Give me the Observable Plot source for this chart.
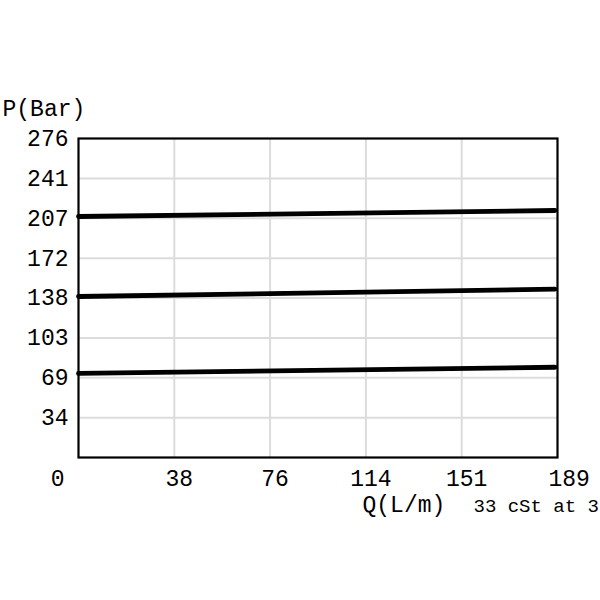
<!DOCTYPE html>
<html>
<head>
<meta charset="utf-8">
<script src="https://cdn.jsdelivr.net/npm/d3@7"></script>
<script src="https://cdn.jsdelivr.net/npm/@observablehq/plot@0.6"></script>
<style>
  html, body { margin: 0; padding: 0; background: #fff; overflow: hidden; }
  svg { display: block; }
</style>
</head>
<body>
<div id="chart"></div>
<script>
// Data
const flow = [0, 188];                 // Q (L/m) at the ends of each curve
const curveHigh = [208.5, 213.7];      // P (Bar)
const curveMid  = [139.3, 145.6];
const curveLow  = [72.7, 78.1];
const xTicks = [0, 37.8, 75.6, 113.4, 151.2, 189];
const xTickLabels = ["0", "38", "76", "114", "151", "189"];
const yTicks = [0, 34.5, 69, 103.5, 138, 172.5, 207, 241.5, 276];
const yTickLabels = ["", "34", "69", "103", "138", "172", "207", "241", "276"];
const yLabel = "P(Bar)";
const xLabel = "Q(L/m)";
const note = "33 cSt at 3";

const curves = [curveHigh, curveMid, curveLow].flatMap((vals, i) =>
  vals.map((p, j) => ({curve: i, q: flow[j], p})));

const xt = xTicks.map((v, i) => ({v, label: xTickLabels[i]}));
const yt = yTicks.map((v, i) => ({v, label: yTickLabels[i]}));
const xtFirst = xt.slice(0, 1), xtMid = xt.slice(1, -1), xtLast = xt.slice(-1);

const font = "'Liberation Mono', 'Courier New', monospace";
const fs = 23;
const common = {fontSize: fs, fill: "#000", lineAnchor: "middle"};

const chart = Plot.plot({
  width: 600,
  height: 600,
  marginLeft: 78,
  marginRight: 43,
  marginTop: 138,
  marginBottom: 143,
  style: {fontFamily: font, background: "#fff", overflow: "visible"},
  x: {domain: [0, 189], axis: null},
  y: {domain: [0, 276], axis: null},
  marks: [
    Plot.ruleX(xTicks.slice(1, -1), {stroke: "#dcdcdc", strokeWidth: 2}),
    Plot.ruleY(yTicks.slice(1, -1), {stroke: "#dcdcdc", strokeWidth: 2}),
    Plot.line(curves, {x: "q", y: "p", z: "curve", stroke: "#000", strokeWidth: 4.8}),
    Plot.frame({stroke: "#000", strokeWidth: 2.2}),
    Plot.text(yt, {y: "v", text: "label", frameAnchor: "left", dx: -10, textAnchor: "end", ...common}),
    Plot.text(xtFirst, {x: "v", text: "label", frameAnchor: "bottom", dy: 21, dx: -14, textAnchor: "end", ...common}),
    Plot.text(xtMid, {x: "v", text: "label", frameAnchor: "bottom", dy: 21, dx: 5, textAnchor: "middle", ...common}),
    Plot.text(xtLast, {x: "v", text: "label", frameAnchor: "bottom", dy: 21, dx: -9, textAnchor: "start", ...common}),
    Plot.text([yLabel], {frameAnchor: "top-left", dx: -76, dy: -30, textAnchor: "start", ...common}),
    Plot.text([xLabel], {frameAnchor: "bottom-right", dx: -195, dy: 47, textAnchor: "start", ...common}),
    Plot.text([note], {frameAnchor: "bottom-right", dx: -84, dy: 48, textAnchor: "start", ...common, fontSize: 19})
  ]
});
document.getElementById("chart").appendChild(chart);
</script>
</body>
</html>
